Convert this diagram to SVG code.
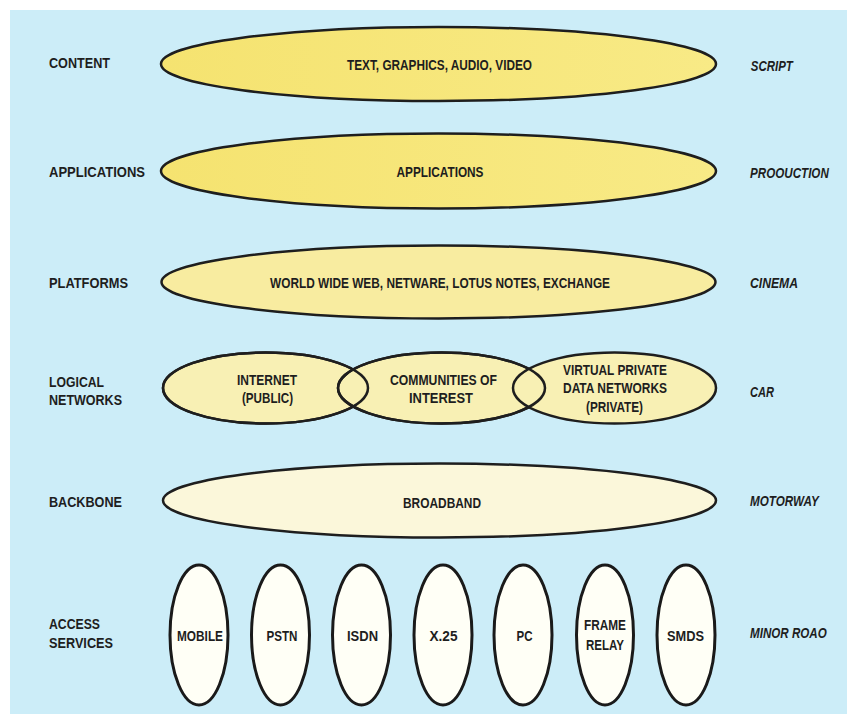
<svg xmlns="http://www.w3.org/2000/svg" width="847" height="714" viewBox="0 0 847 714">
  <style>
    .lbl { font-family: "Liberation Sans", Arial, sans-serif; font-weight: bold; font-size: 15px; fill: #1e1e1e; }
    .mid { text-anchor: middle; }
    .ital { font-style: italic; }
    .band { stroke: #1e1e1e; stroke-width: 2.5; }
    .pod { stroke: #1a1a1a; stroke-width: 3; fill: #fffff6; }
  </style>
  <defs>
    <linearGradient id="gold" x1="0" y1="0" x2="1" y2="0">
      <stop offset="0" stop-color="#f5e370"/>
      <stop offset="1" stop-color="#f8ea86"/>
    </linearGradient>
  </defs>

  <!-- page -->
  <rect x="0" y="0" width="847" height="714" fill="#ffffff"/>
  <rect x="10" y="10" width="837" height="704" fill="#ccedf8"/>

  <!-- layer names (condensed lettering via textLength) -->
  <g id="layer-names" class="lbl">
    <text x="49" y="68" textLength="61" lengthAdjust="spacingAndGlyphs">CONTENT</text>
    <text x="49" y="177" textLength="96" lengthAdjust="spacingAndGlyphs">APPLICATIONS</text>
    <text x="49" y="288" textLength="79" lengthAdjust="spacingAndGlyphs">PLATFORMS</text>
    <text x="49" y="387" textLength="55" lengthAdjust="spacingAndGlyphs">LOGICAL</text>
    <text x="49" y="405" textLength="73" lengthAdjust="spacingAndGlyphs">NETWORKS</text>
    <text x="49" y="507" textLength="73" lengthAdjust="spacingAndGlyphs">BACKBONE</text>
    <text x="49" y="629" textLength="51" lengthAdjust="spacingAndGlyphs">ACCESS</text>
    <text x="49" y="648" textLength="64" lengthAdjust="spacingAndGlyphs">SERVICES</text>
  </g>

  <!-- analogies: horizontally condensed column starting at x=750 -->
  <g id="analogies" class="lbl ital" transform="translate(750 0) scale(0.8 1)">
    <text x="1" y="71" textLength="52.5" lengthAdjust="spacingAndGlyphs">SCRIPT</text>
    <text x="0" y="178" textLength="98.5" lengthAdjust="spacingAndGlyphs">PROOUCTION</text>
    <text x="0" y="288" textLength="60" lengthAdjust="spacingAndGlyphs">CINEMA</text>
    <text x="0" y="397" textLength="30" lengthAdjust="spacingAndGlyphs">CAR</text>
    <text x="0" y="506" textLength="86" lengthAdjust="spacingAndGlyphs">MOTORWAY</text>
    <text x="0" y="638" textLength="96" lengthAdjust="spacingAndGlyphs">MINOR ROAO</text>
  </g>

  <g id="content">
    <ellipse class="band" cx="438.5" cy="64" rx="277.5" ry="37" fill="url(#gold)"/>
    <text class="lbl mid" x="439.5" y="70" textLength="185" lengthAdjust="spacingAndGlyphs">TEXT, GRAPHICS, AUDIO, VIDEO</text>
  </g>

  <g id="applications">
    <ellipse class="band" cx="438.5" cy="171" rx="277.5" ry="37.5" fill="url(#gold)"/>
    <text class="lbl mid" x="440" y="177" textLength="87" lengthAdjust="spacingAndGlyphs">APPLICATIONS</text>
  </g>

  <g id="platforms">
    <ellipse class="band" cx="438.5" cy="282" rx="277" ry="36.5" fill="#f8eca0"/>
    <text class="lbl mid" x="440" y="288" textLength="340" lengthAdjust="spacingAndGlyphs">WORLD WIDE WEB, NETWARE, LOTUS NOTES, EXCHANGE</text>
  </g>

  <g id="logical-networks" fill="#f8f0b4">
    <g id="internet">
      <ellipse class="band" cx="265.5" cy="388" rx="102.5" ry="35.5"/>
    </g>
    <g id="communities">
      <ellipse class="band" cx="441.5" cy="388" rx="103.5" ry="35.5"/>
    </g>
    <g id="vpn">
      <ellipse class="band" cx="614.5" cy="388" rx="101.5" ry="35.5"/>
    </g>
    <!-- outlines redrawn on top so the overlaps show both rims -->
    <g fill="none">
      <ellipse class="band" cx="265.5" cy="388" rx="102.5" ry="35.5"/>
      <ellipse class="band" cx="441.5" cy="388" rx="103.5" ry="35.5"/>
    </g>
    <g class="lbl mid">
      <text x="267" y="385" textLength="60" lengthAdjust="spacingAndGlyphs">INTERNET</text>
      <text x="267.5" y="403" textLength="51" lengthAdjust="spacingAndGlyphs">(PUBLIC)</text>
      <text x="443.5" y="385" textLength="107" lengthAdjust="spacingAndGlyphs">COMMUNITIES OF</text>
      <text x="441" y="403" textLength="64" lengthAdjust="spacingAndGlyphs">INTEREST</text>
      <text x="615" y="375" textLength="104" lengthAdjust="spacingAndGlyphs">VIRTUAL PRIVATE</text>
      <text x="615" y="393" textLength="104" lengthAdjust="spacingAndGlyphs">DATA NETWORKS</text>
      <text x="614.5" y="412" textLength="57" lengthAdjust="spacingAndGlyphs">(PRIVATE)</text>
    </g>
  </g>

  <g id="backbone">
    <ellipse class="band" cx="439.5" cy="500.5" rx="276.5" ry="37" fill="#fbf7da"/>
    <text class="lbl mid" x="442" y="508" textLength="78" lengthAdjust="spacingAndGlyphs">BROADBAND</text>
  </g>

  <g id="access-services">
    <g id="mobile"><ellipse class="pod" cx="199" cy="635" rx="29" ry="70"/><text class="lbl mid" x="200" y="641" textLength="46" lengthAdjust="spacingAndGlyphs">MOBILE</text></g>
    <g id="pstn"><ellipse class="pod" cx="280.5" cy="635" rx="29" ry="70"/><text class="lbl mid" x="282" y="641" textLength="31" lengthAdjust="spacingAndGlyphs">PSTN</text></g>
    <g id="isdn"><ellipse class="pod" cx="361.5" cy="635" rx="29" ry="70"/><text class="lbl mid" x="362.5" y="641" textLength="31" lengthAdjust="spacingAndGlyphs">ISDN</text></g>
    <g id="x25"><ellipse class="pod" cx="443" cy="635" rx="29" ry="70"/><text class="lbl mid" x="443.5" y="641" textLength="28" lengthAdjust="spacingAndGlyphs">X.25</text></g>
    <g id="pc"><ellipse class="pod" cx="523" cy="635" rx="29" ry="70"/><text class="lbl mid" x="524.5" y="641" textLength="16" lengthAdjust="spacingAndGlyphs">PC</text></g>
    <g id="frame-relay"><ellipse class="pod" cx="605" cy="635" rx="28.5" ry="70"/><text class="lbl mid" x="605" y="630" textLength="42" lengthAdjust="spacingAndGlyphs">FRAME</text><text class="lbl mid" x="605" y="650" textLength="38" lengthAdjust="spacingAndGlyphs">RELAY</text></g>
    <g id="smds"><ellipse class="pod" cx="686" cy="635" rx="29" ry="70"/><text class="lbl mid" x="685.5" y="641" textLength="37" lengthAdjust="spacingAndGlyphs">SMDS</text></g>
  </g>
</svg>
